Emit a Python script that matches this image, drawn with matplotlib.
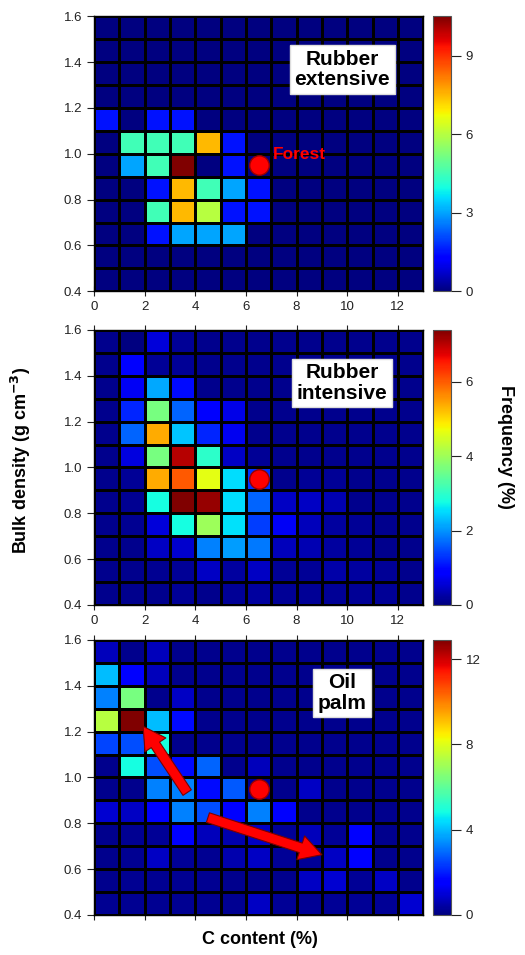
import matplotlib
matplotlib.use('Agg')
import matplotlib.pyplot as plt
import numpy as np

plt.rcParams['font.family'] = ['Liberation Sans', 'DejaVu Sans']

# bin edges
c_edges = np.arange(0, 14, 1)               # C content (%)
bd_edges = np.round(np.arange(0.4, 1.61, 0.1), 1)  # bulk density

# frequency (%) per cell, rows listed from top (1.5-1.6) to bottom (0.4-0.5)
rubber_ext = [
    [0, 0, 0, 0, 0, 0, 0, 0, 0, 0, 0, 0, 0],
    [0, 0, 0, 0, 0, 0, 0, 0, 0, 0, 0, 0, 0],
    [0, 0, 0, 0, 0, 0, 0, 0, 0, 0, 0, 0, 0],
    [0, 0, 0, 0, 0, 0, 0, 0, 0, 0, 0, 0, 0],
    [1.5, 0, 1.5, 1.5, 0, 0, 0, 0, 0, 0, 0, 0, 0],
    [0, 4.5, 4.5, 4.5, 7.5, 1.5, 0, 0, 0, 0, 0, 0, 0],
    [0, 3.0, 4.5, 10.5, 0, 1.5, 0, 0, 0, 0, 0, 0, 0],
    [0, 0, 1.5, 7.5, 4.5, 3.0, 1.5, 0, 0, 0, 0, 0, 0],
    [0, 0, 4.5, 7.5, 6.0, 1.5, 1.5, 0, 0, 0, 0, 0, 0],
    [0, 0, 1.5, 3.0, 3.0, 3.0, 0, 0, 0, 0, 0, 0, 0],
    [0, 0, 0, 0, 0, 0, 0, 0, 0, 0, 0, 0, 0],
    [0, 0, 0, 0, 0, 0, 0, 0, 0, 0, 0, 0, 0],
]
rubber_int = [
    [0.09, 0.02, 0.6, 0.16, 0.09, 0.09, 0.09, 0.09, 0.09, 0.09, 0.09, 0.09, 0.09],
    [0.09, 0.81, 0.16, 0.16, 0.09, 0.09, 0.09, 0.09, 0.09, 0.09, 0.09, 0.09, 0.09],
    [0.09, 0.78, 2.16, 1.0, 0.09, 0.09, 0.09, 0.09, 0.09, 0.09, 0.09, 0.09, 0.09],
    [0.09, 1.21, 3.65, 1.65, 0.92, 0.67, 0.09, 0.09, 0.09, 0.09, 0.09, 0.09, 0.09],
    [0.09, 1.65, 5.38, 2.37, 1.21, 0.74, 0.09, 0.09, 0.09, 0.09, 0.09, 0.09, 0.09],
    [0.09, 0.63, 3.65, 7.05, 2.99, 0.45, 0.16, 0.09, 0.09, 0.09, 0.09, 0.09, 0.09],
    [0.09, 0.16, 5.38, 6.04, 4.63, 2.52, 1.3, 0.09, 0.16, 0.16, 0.09, 0.09, 0.09],
    [0.09, 0.13, 2.78, 7.4, 7.24, 2.52, 1.65, 0.45, 0.45, 0.34, 0.09, 0.09, 0.09],
    [0.09, 0.13, 0.6, 2.78, 4.0, 2.55, 1.36, 0.78, 0.38, 0.23, 0.16, 0.09, 0.09],
    [0.09, 0.09, 0.45, 0.52, 1.87, 2.08, 1.8, 0.38, 0.34, 0.23, 0.16, 0.09, 0.09],
    [0.09, 0.09, 0.13, 0.16, 0.45, 0.23, 0.45, 0.16, 0.16, 0.27, 0.23, 0.16, 0.09],
    [0.09, 0.09, 0.09, 0.16, 0.09, 0.16, 0.23, 0.16, 0.16, 0.16, 0.16, 0.16, 0.09],
]
oil_palm = [
    [0.66, 0.16, 0.66, 0.16, 0.16, 0.16, 0.16, 0.16, 0.16, 0.16, 0.16, 0.16, 0.16],
    [4.0, 1.48, 0.66, 0.16, 0.16, 0.16, 0.16, 0.16, 0.16, 0.16, 0.16, 0.16, 0.16],
    [3.25, 6.36, 0.16, 0.79, 0.16, 0.16, 0.16, 0.16, 0.16, 0.16, 0.16, 0.16, 0.16],
    [7.37, 12.9, 4.0, 1.74, 0.16, 0.16, 0.16, 0.16, 0.16, 0.16, 0.16, 0.16, 0.16],
    [2.5, 2.62, 4.84, 0.16, 0.16, 0.16, 0.16, 0.16, 0.16, 0.16, 0.16, 0.16, 0.16],
    [0.16, 4.84, 2.62, 1.74, 2.88, 0.16, 0.66, 0.16, 0.16, 0.16, 0.16, 0.16, 0.16],
    [0.16, 0.16, 3.25, 3.25, 1.74, 2.75, 0.3, 0.16, 0.79, 0.16, 0.16, 0.16, 0.16],
    [0.92, 0.79, 1.55, 3.25, 2.62, 1.55, 3.25, 1.48, 0.16, 0.16, 0.16, 0.16, 0.16],
    [0.16, 0.22, 0.3, 1.55, 0.66, 0.53, 0.79, 0.3, 0.66, 0.3, 1.48, 0.16, 0.16],
    [0.16, 0.22, 0.79, 0.3, 0.22, 0.53, 0.79, 0.3, 0.3, 0.79, 1.48, 0.16, 0.16],
    [0.16, 0.22, 0.22, 0.22, 0.22, 0.16, 0.16, 0.16, 0.79, 0.92, 0.3, 0.79, 0.16],
    [0.22, 0.22, 0.22, 0.22, 0.22, 0.22, 0.79, 0.3, 0.3, 0.3, 0.3, 0.3, 0.92],
]

panels = [rubber_ext, rubber_int, oil_palm]
titles = ['Rubber\nextensive', 'Rubber\nintensive', 'Oil\npalm']
vmaxes = [10.5, 7.4, 12.9]
cbar_ticks = [[0, 3, 6, 9], [0, 2, 4, 6], [0, 4, 8, 12]]

forest_c, forest_bd = 6.5, 0.95
# oil palm arrows: (start, end) in data units
arrows = [((3.68, 0.934), (1.94, 1.223)), ((4.5, 0.825), (9.0, 0.663))]

fig = plt.figure(figsize=(5.25, 9.55), dpi=100)
bottoms = [0.695, 0.3665, 0.0419]
h = 0.288

for i, data in enumerate(panels):
    ax = fig.add_axes([0.179, bottoms[i], 0.627, h])
    cax = fig.add_axes([0.825, bottoms[i], 0.034, h])
    z = np.flipud(np.array(data))
    m = ax.pcolormesh(c_edges, bd_edges, z, cmap='jet', vmin=0, vmax=vmaxes[i])
    # cell borders
    ax.vlines(c_edges, 0.4, 1.6, color='black', lw=1.0, antialiased=False, zorder=2)
    ax.hlines(bd_edges, 0, 13, color='black', lw=1.0, antialiased=False, zorder=2)
    ax.set_xlim(0, 13)
    ax.set_ylim(0.4, 1.6)
    ax.set_yticks(np.arange(0.4, 1.61, 0.2))
    ax.set_yticklabels(['%.1f' % v for v in np.arange(0.4, 1.61, 0.2)])
    ax.set_xticks(np.arange(0, 13, 2))
    ax.tick_params(axis='y', direction='out', length=5, labelsize=9.5, colors='#222222')
    ax.tick_params(axis='x', direction='inout', length=7, labelsize=9.5, colors='#222222')
    if i == 2:
        ax.set_xticklabels([])
    if i > 0:
        ax.tick_params(axis='x', top=True, direction='inout', length=7)
    for s in ax.spines.values():
        s.set_linewidth(1.0)

    ax.text(9.8, 1.368, titles[i], ha='center', va='center', fontsize=15,
            fontweight='bold', linespacing=1.1, zorder=4,
            bbox=dict(facecolor='white', edgecolor='#dddddd', boxstyle='square,pad=0.22'))

    ax.plot(forest_c, forest_bd, 'o', color='red', markeredgecolor='#990000',
            markersize=14, zorder=5)
    if i == 0:
        ax.text(7.05, 0.995, 'Forest', color='red', fontsize=12.5, fontweight='bold',
                ha='left', va='center', zorder=5)
    if i == 2:
        for (x0, y0), (x1, y1) in arrows:
            ax.annotate('', xy=(x1, y1), xytext=(x0, y0),
                        arrowprops=dict(arrowstyle='simple,head_width=0.9,head_length=0.8,tail_width=0.36',
                                        fc='red', ec='#7a0000', lw=0.8,
                                        shrinkA=0, shrinkB=0, mutation_scale=20), zorder=6)

    cb = fig.colorbar(m, cax=cax, ticks=cbar_ticks[i])
    cb.ax.tick_params(direction='out', length=7, labelsize=9.5, colors='#222222')
    cb.outline.set_edgecolor('#555555')

fig.text(0.04, 0.518, 'Bulk density (g cm$^{\\mathbf{-3}}$)', rotation=90, ha='center',
         va='center', fontsize=13, fontweight='bold')
fig.text(0.495, 0.016, 'C content (%)', ha='center', va='center',
         fontsize=13, fontweight='bold')
fig.text(0.962, 0.532, 'Frequency (%)', rotation=-90, ha='center', va='center',
         fontsize=13, fontweight='bold')

fig.savefig('out.png', dpi=100)
